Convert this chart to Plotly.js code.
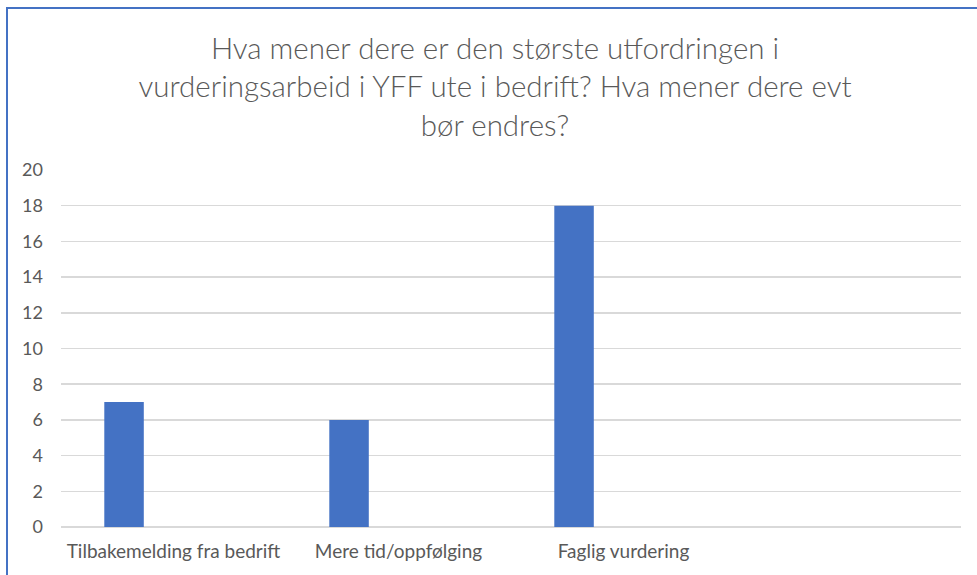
<!DOCTYPE html>
<html>
<head>
<meta charset="utf-8">
<script src="https://cdn.plot.ly/plotly-3.0.1.min.js"></script>
<style>
  html, body { margin: 0; padding: 0; background: #fff; }
  #chart { width: 977px; height: 575px; }
  #frame { position: absolute; left: 6px; top: 7px; width: 1000px; height: 600px;
           border-left: 2px solid #4472C4; border-top: 2px solid #4472C4; pointer-events: none; }
</style>
</head>
<body>
<div id="chart"></div>
<div id="frame"></div>
<script>
// Data
const categories = ["Tilbakemelding fra bedrift", "Mere tid/oppfølging", "Faglig vurdering"];
const emptySlot = [" "];
const values = [7, 6, 18];
const yTicks = [0, 2, 4, 6, 8, 10, 12, 14, 16, 18, 20];
const titleText = "Hva mener dere er den største utfordringen i<br>vurderingsarbeid i YFF ute i bedrift? Hva mener dere evt<br>bør endres?";

const fontFam = "Lato, 'Liberation Sans', Arial, sans-serif";
const textColor = "#595959";

const trace = {
  type: "bar",
  x: categories,
  y: values,
  width: 0.1756,
  offset: -0.3076,
  marker: { color: "#4472C4" },
  hoverinfo: "none"
};

const layout = {
  width: 977,
  height: 575,
  margin: { l: 61, r: 16, t: 170, b: 48 },
  paper_bgcolor: "#ffffff",
  plot_bgcolor: "#ffffff",
  showlegend: false,
  title: {
    text: titleText,
    font: { family: fontFam, size: 29.5, color: textColor, weight: 300 },
    x: 495 / 977,
    xanchor: "center",
    xref: "container",
    y: 1 - 59 / 575,
    yref: "container",
    yanchor: "top"
  },
  xaxis: {
    type: "category",
    categoryorder: "array",
    categoryarray: categories.concat(emptySlot),
    range: [-0.5, 3.5],
    showgrid: false,
    zeroline: false,
    showline: false,
    ticks: "",
    ticklabelstandoff: 11,
    tickfont: { family: fontFam, size: 19, color: textColor },
    fixedrange: true
  },
  yaxis: {
    range: [0, 20],
    tickvals: yTicks,
    ticktext: yTicks.map(String),
    showgrid: true,
    gridcolor: "#D9D9D9",
    gridwidth: 1.5,
    zeroline: true,
    zerolinecolor: "#D9D9D9",
    zerolinewidth: 1.5,
    showline: false,
    ticks: "",
    ticklabelstandoff: 17,
    tickfont: { family: fontFam, size: 18, color: textColor },
    fixedrange: true
  }
};

Plotly.newPlot("chart", [trace], layout, { staticPlot: true, displayModeBar: false });
</script>
</body>
</html>
